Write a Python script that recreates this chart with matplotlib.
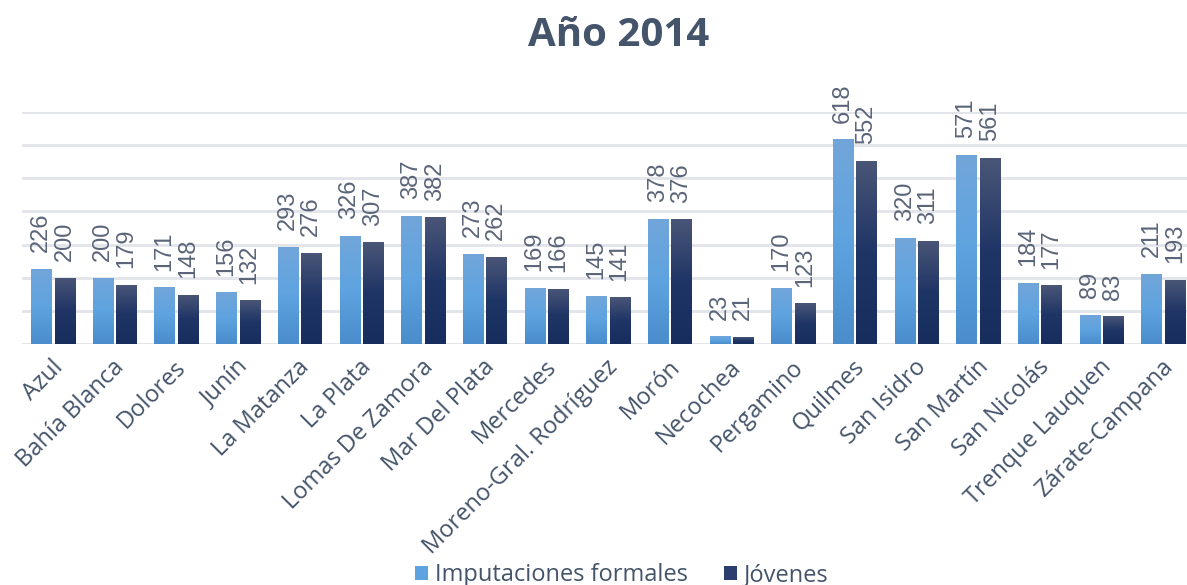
import matplotlib
matplotlib.use("Agg")
import matplotlib.pyplot as plt
import numpy as np
from matplotlib.colors import LinearSegmentedColormap
from matplotlib.patches import Patch
import matplotlib.transforms as mtransforms

categories = ["Azul", "Bahía Blanca", "Dolores", "Junín", "La Matanza", "La Plata",
              "Lomas De Zamora", "Mar Del Plata", "Mercedes", "Moreno-Gral. Rodríguez",
              "Morón", "Necochea", "Pergamino", "Quilmes", "San Isidro", "San Martín",
              "San Nicolás", "Trenque Lauquen", "Zárate-Campana"]
imputaciones = [226, 200, 171, 156, 293, 326, 387, 273, 169, 145, 378, 23, 170, 618, 320, 571, 184, 89, 211]
jovenes = [200, 179, 148, 132, 276, 307, 382, 262, 166, 141, 376, 21, 123, 552, 311, 561, 177, 83, 193]
series_names = ["Imputaciones formales", "Jóvenes"]
title = "Año 2014"

W, H = 1187, 585
fig = plt.figure(figsize=(W / 100, H / 100), dpi=100)
left_px, right_px, top_px, bot_px = 22, 1194, 112, 344
ax = fig.add_axes([left_px / W, 1 - bot_px / H, (right_px - left_px) / W, (bot_px - top_px) / H])

text_col = "#44546A"
label_col = "#5B6579"
light_cmap = LinearSegmentedColormap.from_list("l", ["#4A8CCC", "#5EA3E0", "#72A6DA"])
dark_cmap = LinearSegmentedColormap.from_list("d", ["#172D5E", "#1F3566", "#4A5677"])

x = np.arange(len(categories))
bw = 0.325
off = 0.19

for vals, dx, cmap in [(imputaciones, -off, light_cmap), (jovenes, off, dark_cmap)]:
    bars = ax.bar(x + dx, vals, width=bw, color="none", edgecolor="none", zorder=3)
    grad = np.linspace(0, 1, 256).reshape(-1, 1)
    for b, v in zip(bars, vals):
        x0 = b.get_x()
        im = ax.imshow(grad, extent=[x0, x0 + bw, 0, v], origin="lower", cmap=cmap,
                       aspect="auto", zorder=3, interpolation="bilinear")
        im.set_clip_path(b)
        ax.annotate(str(v), (b.get_x() + bw / 2, v), xytext=(0, 12), textcoords="offset points",
                    rotation=90, ha="center", va="bottom", fontsize=17,
                    color=label_col, family="Liberation Sans", zorder=4, annotation_clip=False)

ax.set_aspect("auto")
ax.set_xlim(-0.5, len(categories) - 0.5)
ax.set_ylim(0, 700)
ax.set_yticks(np.arange(0, 701, 100))
ax.yaxis.grid(True, color="#E1E4E9", linewidth=2)
ax.set_axisbelow(True)
ax.tick_params(axis="y", left=False, labelleft=False)
ax.tick_params(axis="x", bottom=False, pad=3)
for s in ax.spines.values():
    s.set_visible(False)

ax.set_xticks(x)
ax.set_xticklabels(categories, rotation=45, ha="right", va="top", rotation_mode="anchor",
                   fontsize=17, color=text_col, family="Open Sans")
shift = mtransforms.ScaledTranslation(-2 / 100, -2 / 100, fig.dpi_scale_trans)
for lbl in ax.get_xticklabels():
    lbl.set_transform(lbl.get_transform() + shift)

fig.text(619 / W, 1 - 35 / H, title, ha="center", va="center", fontsize=29,
         fontweight="bold", color=text_col, family="Open Sans")

handles = [Patch(facecolor="#5EA3E0", edgecolor="none"), Patch(facecolor="#2A3F6E", edgecolor="none")]
leg = fig.legend(handles, series_names, loc="center", bbox_to_anchor=(622 / W, 1 - 575 / H),
                 ncol=2, frameon=False, handlelength=0.55, handleheight=0.55,
                 handletextpad=0.3, columnspacing=1.5,
                 prop={"family": "Open Sans", "size": 17})
for t in leg.get_texts():
    t.set_color(text_col)

fig.savefig("out.png", dpi=100)
